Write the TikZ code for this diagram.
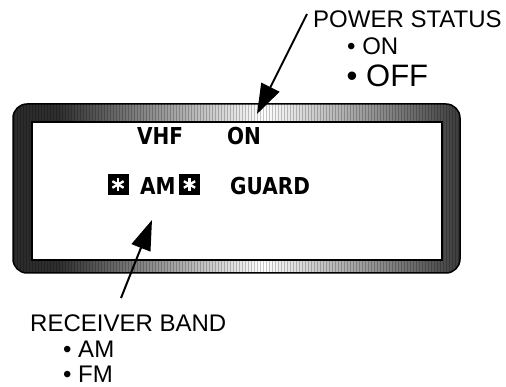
\documentclass[tikz,border=0pt]{standalone}
\usepackage{fontspec}
\setmainfont{Liberation Sans}
\newfontfamily\lcdfont{DejaVu Sans}[FakeStretch=0.86]
\usetikzlibrary{arrows.meta, positioning}
\pgfdeclarehorizontalshading{bezel}{100bp}{color(0bp)=(black!90); color(30bp)=(black!82);
  color(53bp)=(white); color(76bp)=(black!80); color(100bp)=(black!90)}

\begin{document}
\begin{tikzpicture}[x=1pt, y=-1pt,
  lbl/.style={anchor=base west, inner sep=0pt, font=\fontsize{24}{28}\selectfont},
  big/.style={lbl, font=\fontsize{31}{36}\selectfont},
  lcd/.style={anchor=base west, inner sep=0pt, font=\fontsize{23.3}{28}\lcdfont\bfseries},
  starbox/.style={fill=black, inner sep=0pt, minimum width=21pt, minimum height=21pt},
  callout/.style={line width=2pt, -{Triangle[length=30pt, width=20pt]}}]
\useasboundingbox (0,0) rectangle (506,387);
% display bezel
\shade[shading=bezel, rounded corners=14pt] (13,104) rectangle (460,273);
\begin{scope}
  \clip[rounded corners=14pt] (13,104) rectangle (460,273);
  \foreach \x in {14,17,...,459}
    \draw[black, opacity=.22, line width=.7pt] (\x,104) -- (\x,273);
\end{scope}
\draw[line width=1.5pt, rounded corners=14pt] (13,104) rectangle (460,273);
\draw[fill=white, line width=2pt] (32,122) rectangle (442,260);
% display text
\node[lcd] (vhf) at (137,145) {VHF};
\node[lcd] (on) at (227,145) {ON};
\node[starbox] (star1) at (118,184.5) {};
\node[lcd] (am) at (140,195) {AM};
\node[starbox] (star2) at (189.5,184.5) {};
\node[lcd] (guard) at (230,195) {GUARD};
\foreach \s in {star1,star2}
  \foreach \a in {90,30,150}
    \draw[white, line width=2.4pt] (\s.center) ++(\a:6.5) -- ++(\a+180:13);
% power status
\node[lbl] (power) at (313,28) {POWER STATUS};
\node[lbl] (pon) at (347,55) {• ON};
\node[big] (poff) at (346.5,87) {• OFF};
\coordinate (pwrtail) at (307,14);
\coordinate (pwrtip) at (257,114);
\draw[callout] (pwrtail) -- (pwrtip);
% receiver band
\node[lbl] (rcvr) at (30,331) {RECEIVER BAND};
\node[lbl] (ram) at (63,357) {• AM};
\node[lbl] (rfm) at (63,382) {• FM};
\coordinate (bandtail) at (121,298);
\coordinate (bandtip) at (152,220);
\draw[callout] (bandtail) -- (bandtip);
\end{tikzpicture}
\end{document}
